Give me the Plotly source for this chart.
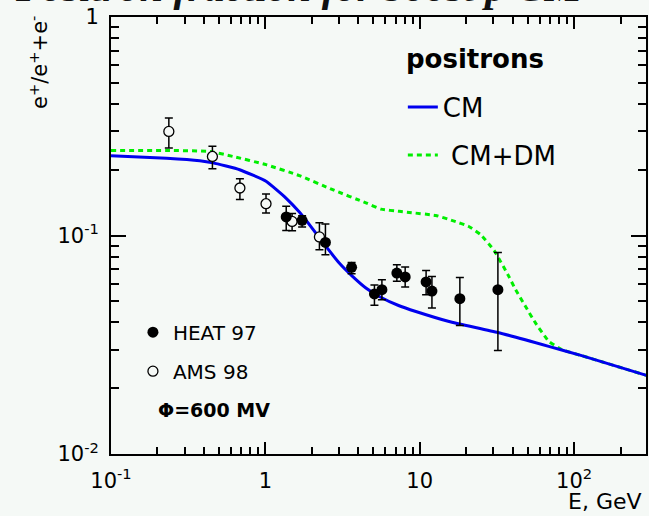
import plotly.graph_objects as go

# ---------------- data ----------------
heat_E = [1.365, 1.73, 2.45, 3.62, 5.09, 5.69, 7.11, 8.05, 11.0, 12.0, 18.2, 32.1]
heat_frac = [0.1216, 0.1173, 0.093, 0.0715, 0.054, 0.0565, 0.0673, 0.0646, 0.0613, 0.0557, 0.0514, 0.0565]
heat_hi = [0.136, 0.123, 0.113, 0.0753, 0.0593, 0.0628, 0.0735, 0.0718, 0.0692, 0.065, 0.0643, 0.0837]
heat_lo = [0.1055, 0.1093, 0.0817, 0.0669, 0.0479, 0.0508, 0.0617, 0.0581, 0.0536, 0.0466, 0.0387, 0.0298]

ams_E = [0.237, 0.454, 0.684, 1.01, 1.49, 2.24]
ams_frac = [0.2996, 0.230, 0.165, 0.1398, 0.116, 0.0985]
ams_hi = [0.345, 0.256, 0.182, 0.155, 0.126, 0.1145]
ams_lo = [0.2515, 0.202, 0.146, 0.1268, 0.105, 0.086]

cm_E = [0.1, 0.229, 0.376, 0.458, 0.681, 1.01, 1.365, 1.66, 2.03, 2.47, 3.01, 3.67,
        4.48, 5.47, 7.36, 9.44, 15.5, 32.1, 68.5, 112, 300]
cm_frac = [0.232, 0.226, 0.220, 0.215, 0.200, 0.177, 0.148, 0.128, 0.107, 0.0891, 0.0748, 0.065,
           0.0575, 0.0526, 0.0477, 0.0449, 0.0404, 0.036, 0.0311, 0.0282, 0.0228]

dm_E = [0.1, 0.229, 0.436, 0.617, 1.01, 1.66, 2.73, 4.48, 5.61, 7.36, 8.55, 12.7, 16.3,
        20.8, 24.8, 30.3, 37.8, 41.8, 48.4, 56.2, 68.5, 83.6, 112, 300]
dm_frac = [0.245, 0.245, 0.2426, 0.230, 0.211, 0.188, 0.162, 0.141, 0.132, 0.129, 0.1275, 0.1235, 0.117,
           0.110, 0.101, 0.0855, 0.065, 0.0565, 0.0474, 0.0398, 0.0328, 0.030, 0.0282, 0.0228]

x_tickvals = [0.1, 1, 10, 100]
x_ticktext = ["10<sup>-1</sup>", "1", "10", "10<sup>2</sup>"]
y_tickvals = [0.01, 0.1, 1]
y_ticktext = ["10<sup>-2</sup>", "10<sup>-1</sup>", "1"]

def minor_vals(lo_exp, hi_exp):
    out = []
    for e in range(lo_exp, hi_exp):
        for m in range(2, 10):
            out.append(m * 10 ** e)
    return out

BG = "#f5f9f6"
FONT = "DejaVu Sans"

fig = go.Figure()

fig.add_trace(go.Scatter(
    x=dm_E, y=dm_frac, mode="lines", name="\u00a0CM+DM",
    line=dict(color="#00ee00", width=3, dash="5px,4px", shape="spline", smoothing=0.4),
    legend="legend", legendgroup="b", legendrank=2))
fig.add_trace(go.Scatter(
    x=cm_E, y=cm_frac, mode="lines", name="CM",
    line=dict(color="#0000ee", width=3, shape="spline", smoothing=0.4),
    legend="legend", legendgroup="a", legendrank=1))

fig.add_trace(go.Scatter(
    x=ams_E, y=ams_frac, mode="markers", name="AMS 98",
    marker=dict(symbol="circle", size=10, color=BG, line=dict(color="black", width=1.3)),
    error_y=dict(type="data", symmetric=False,
                 array=[h - v for h, v in zip(ams_hi, ams_frac)],
                 arrayminus=[v - l for l, v in zip(ams_lo, ams_frac)],
                 color="black", thickness=1.5, width=4),
    legend="legend2", legendgroup="d", legendrank=2))
fig.add_trace(go.Scatter(
    x=heat_E, y=heat_frac, mode="markers", name="HEAT 97",
    marker=dict(symbol="circle", size=11, color="black"),
    error_y=dict(type="data", symmetric=False,
                 array=[h - v for h, v in zip(heat_hi, heat_frac)],
                 arrayminus=[v - l for l, v in zip(heat_lo, heat_frac)],
                 color="black", thickness=1.5, width=4),
    legend="legend2", legendgroup="c", legendrank=1))

axis_common = dict(
    type="log", showgrid=False, zeroline=False, showline=True, linecolor="black",
    linewidth=1.8, ticks="inside", tickcolor="black", tickwidth=1.5, mirror="allticks",
    tickfont=dict(family=FONT, size=21, color="black"), tickmode="array")

fig.update_xaxes(**axis_common, range=[-1, 2.466], tickvals=x_tickvals, ticktext=x_ticktext,
                 ticklen=12, ticklabelstandoff=7,
                 minor=dict(tickmode="array", tickvals=minor_vals(-1, 3), ticks="inside",
                            ticklen=7, tickcolor="black", tickwidth=1.5, showgrid=False))
fig.update_yaxes(**axis_common, range=[-2, 0], tickvals=y_tickvals, ticktext=y_ticktext,
                 ticklen=15, ticklabelstandoff=6,
                 minor=dict(tickmode="array", tickvals=minor_vals(-2, 0), ticks="inside",
                            ticklen=8, tickcolor="black", tickwidth=1.5, showgrid=False))

fig.update_layout(
    width=649, height=516,
    margin=dict(l=111, r=1, t=17, b=62),
    paper_bgcolor=BG, plot_bgcolor=BG,
    font=dict(family=FONT, color="black"),
    legend=dict(x=0.5455, y=(454.3 - 84) / 437, xanchor="left", yanchor="top",
                bgcolor="rgba(0,0,0,0)", font=dict(size=26, family=FONT),
                traceorder="grouped", tracegroupgap=11, itemwidth=30),
    legend2=dict(x=0.041, y=(454.3 - 313) / 437, xanchor="left", yanchor="top",
                 bgcolor="rgba(0,0,0,0)", font=dict(size=20, family=FONT),
                 traceorder="grouped", tracegroupgap=10, itemwidth=30),
    annotations=[
        dict(text="<b>positrons</b>", xref="paper", yref="paper",
             x=(405 - 111) / 537, y=(454.3 - 59) / 437, xanchor="left", yanchor="middle",
             showarrow=False, font=dict(size=26, family=FONT)),
        dict(text="e<sup>+</sup>/e<sup>+</sup>+e<sup>-</sup>", textangle=-90,
             xref="paper", yref="paper", x=-0.136, y=(454.3 - 63) / 437, xanchor="center",
             yanchor="middle", showarrow=False, font=dict(size=21, family=FONT)),
        dict(text="E, GeV", xref="paper", yref="paper", x=0.9963, y=(454.3 - 502) / 437,
             xanchor="right", yanchor="middle", showarrow=False, font=dict(size=22, family=FONT)),
        dict(text="<b>\u03a6=600 MV</b>", xref="paper", yref="paper", x=(156 - 111) / 537,
             y=(454.3 - 410) / 437, xanchor="left", yanchor="middle", showarrow=False,
             font=dict(size=19, family=FONT)),
        dict(text="<b><i>Positron fraction for boost p CM</i></b>", xref="paper", yref="paper",
             x=(300 - 111) / 537, y=(454.3 - 12) / 437, xanchor="center", yanchor="bottom",
             showarrow=False, font=dict(size=42, family="Liberation Serif", color="#111111")),
    ],
)

fig.write_html("out.html", config={"displayModeBar": False})
